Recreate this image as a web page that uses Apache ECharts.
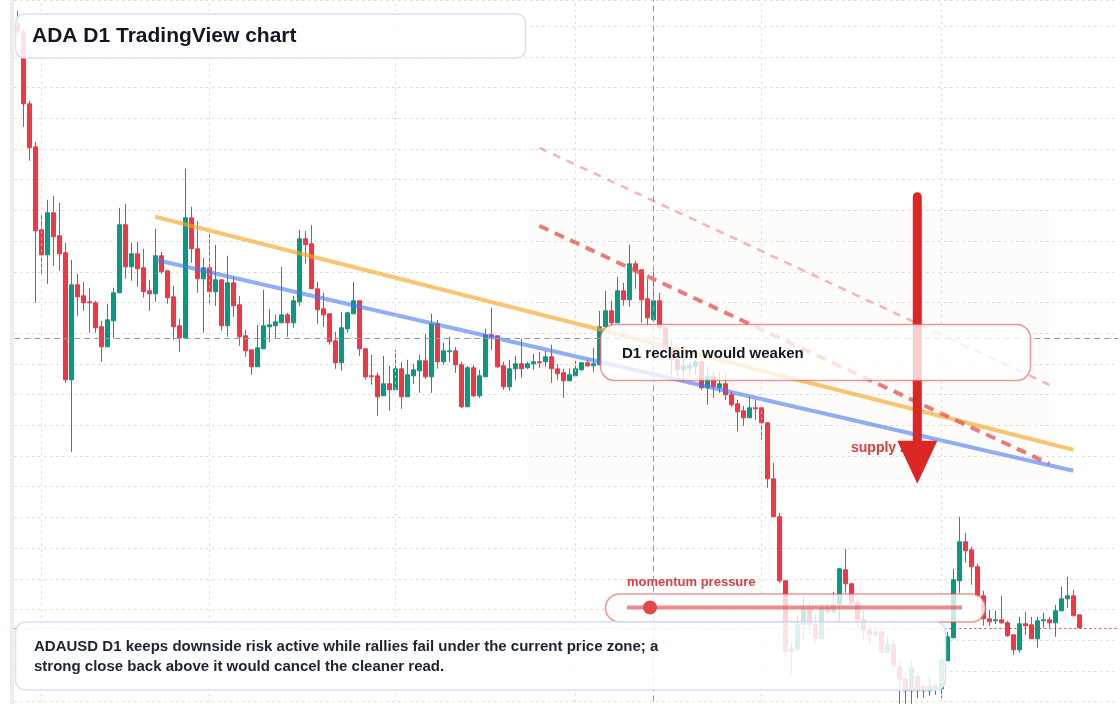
<!DOCTYPE html>
<html>
<head>
<meta charset="utf-8">
<title>ADA D1 TradingView chart</title>
<script src="https://cdn.jsdelivr.net/npm/echarts@6/dist/echarts.min.js"></script>
<style>
  html, body { margin: 0; padding: 0; background: #fff; }
  #chart { width: 1120px; height: 704px; }
</style>
</head>
<body>
<div id="chart"></div>
<script>
// ADAUSD daily candles, first bar 2025-01-28, a few empty future days on the right
const startDay = '2025-01-28'
const futureDays = 6

const open = [
  1.170,1.161,1.089,1.046,0.963,0.938,0.980,0.957,0.940,0.813,
  0.908,0.897,0.891,0.890,0.866,0.846,0.872,0.900,0.968,0.926,
  0.939,0.925,0.902,0.899,0.937,0.922,0.896,0.867,0.855,0.975,
  0.944,0.914,0.925,0.901,0.913,0.867,0.910,0.888,0.857,0.843,
  0.826,0.844,0.866,0.867,0.870,0.878,0.870,0.891,0.954,0.949,
  0.904,0.884,0.879,0.852,0.830,0.864,0.879,0.892,0.844,0.817,
  0.817,0.797,0.809,0.803,0.824,0.796,0.817,0.822,0.832,0.816,
  0.869,0.831,0.841,0.842,0.828,0.786,0.825,0.797,0.816,0.858,
  0.857,0.827,0.806,0.824,0.829,0.825,0.829,0.831,0.831,0.836,
  0.824,0.820,0.812,0.817,0.823,0.830,0.827,0.828,0.866,0.882,
  0.870,0.902,0.893,0.929,0.923,0.894,0.873,0.892,0.865,0.845,
  0.833,0.823,0.824,0.826,0.831,0.805,0.816,0.805,0.809,0.798,
  0.789,0.782,0.775,0.785,0.785,0.770,0.714,0.676,0.612,0.541,
  0.543,0.568,0.584,0.568,0.554,0.585,0.581,0.588,0.623,0.609,
  0.590,0.573,0.563,0.558,0.561,0.540,0.548,0.526,0.514,0.502,
  0.516,0.506,0.502,0.507,0.504,0.532,0.555,0.612,0.651,0.643,
  0.626,0.597,0.574,0.572,0.573,0.570,0.558,0.543,0.569,0.568,
  0.554,0.572,0.573,0.570,0.582,0.594,0.597,0.578
]
const close = [
  1.161,1.089,1.045,0.962,0.938,0.980,0.956,0.939,0.813,0.908,
  0.896,0.890,0.890,0.865,0.846,0.873,0.900,0.968,0.926,0.939,
  0.924,0.901,0.899,0.937,0.921,0.895,0.866,0.855,0.975,0.944,
  0.914,0.925,0.901,0.913,0.867,0.910,0.887,0.856,0.842,0.826,
  0.845,0.867,0.868,0.871,0.878,0.870,0.892,0.954,0.948,0.904,
  0.883,0.878,0.851,0.830,0.865,0.880,0.892,0.844,0.816,0.816,
  0.796,0.809,0.803,0.824,0.796,0.818,0.823,0.832,0.816,0.869,
  0.831,0.842,0.842,0.828,0.786,0.825,0.797,0.817,0.858,0.856,
  0.826,0.806,0.824,0.829,0.824,0.829,0.831,0.830,0.836,0.824,
  0.819,0.812,0.818,0.824,0.830,0.827,0.829,0.866,0.882,0.870,
  0.902,0.893,0.929,0.922,0.893,0.875,0.892,0.865,0.845,0.833,
  0.823,0.827,0.827,0.831,0.805,0.816,0.806,0.809,0.798,0.788,
  0.781,0.775,0.785,0.784,0.770,0.714,0.676,0.612,0.541,0.544,
  0.568,0.584,0.568,0.554,0.585,0.581,0.588,0.624,0.609,0.590,
  0.573,0.562,0.558,0.561,0.540,0.548,0.527,0.513,0.502,0.525,
  0.502,0.502,0.507,0.504,0.533,0.556,0.613,0.651,0.642,0.626,
  0.597,0.574,0.571,0.573,0.570,0.557,0.543,0.569,0.567,0.554,
  0.572,0.573,0.570,0.582,0.594,0.597,0.577,0.565
]
const low = [
  1.157,1.066,1.032,0.890,0.918,0.909,0.927,0.922,0.810,0.741,
  0.877,0.882,0.860,0.860,0.831,0.846,0.855,0.900,0.914,0.912,
  0.906,0.895,0.882,0.891,0.919,0.889,0.853,0.841,0.855,0.930,
  0.900,0.860,0.889,0.887,0.862,0.856,0.876,0.847,0.836,0.818,
  0.826,0.844,0.851,0.855,0.870,0.856,0.865,0.887,0.929,0.904,
  0.869,0.866,0.848,0.824,0.822,0.860,0.879,0.837,0.813,0.808,
  0.777,0.797,0.782,0.803,0.784,0.796,0.809,0.800,0.814,0.800,
  0.824,0.828,0.831,0.820,0.785,0.786,0.796,0.795,0.816,0.843,
  0.825,0.803,0.802,0.813,0.815,0.824,0.823,0.825,0.826,0.810,
  0.813,0.795,0.812,0.817,0.822,0.826,0.821,0.828,0.866,0.866,
  0.870,0.887,0.886,0.904,0.870,0.866,0.871,0.862,0.840,0.818,
  0.816,0.811,0.818,0.818,0.803,0.788,0.795,0.800,0.793,0.786,
  0.761,0.767,0.775,0.773,0.753,0.705,0.676,0.610,0.536,0.519,
  0.543,0.553,0.558,0.550,0.554,0.579,0.579,0.570,0.600,0.588,
  0.565,0.553,0.548,0.557,0.540,0.540,0.521,0.489,0.489,0.489,
  0.495,0.495,0.497,0.498,0.495,0.532,0.555,0.600,0.630,0.608,
  0.593,0.567,0.567,0.569,0.569,0.556,0.538,0.540,0.558,0.554,
  0.545,0.565,0.565,0.556,0.582,0.585,0.577,0.565
]
const high = [
  1.182,1.164,1.092,1.051,0.979,0.993,0.997,0.990,0.950,0.933,
  0.919,0.911,0.905,0.892,0.872,0.889,0.905,0.985,0.989,0.950,
  0.951,0.944,0.913,0.964,0.941,0.922,0.907,0.874,1.024,0.986,
  0.972,0.935,0.959,0.948,0.913,0.937,0.916,0.897,0.863,0.843,
  0.868,0.903,0.884,0.878,0.926,0.880,0.897,0.963,0.962,0.968,
  0.911,0.900,0.879,0.861,0.881,0.881,0.911,0.892,0.844,0.838,
  0.820,0.837,0.827,0.843,0.831,0.833,0.829,0.838,0.859,0.879,
  0.873,0.850,0.856,0.846,0.831,0.827,0.828,0.823,0.864,0.885,
  0.857,0.831,0.833,0.837,0.854,0.831,0.839,0.841,0.842,0.848,
  0.829,0.824,0.824,0.832,0.831,0.833,0.845,0.882,0.902,0.892,
  0.916,0.910,0.948,0.932,0.923,0.914,0.921,0.900,0.867,0.853,
  0.843,0.835,0.831,0.833,0.833,0.826,0.821,0.821,0.820,0.801,
  0.793,0.787,0.796,0.793,0.786,0.771,0.730,0.680,0.613,0.551,
  0.578,0.596,0.590,0.578,0.588,0.590,0.601,0.625,0.644,0.610,
  0.596,0.583,0.567,0.563,0.563,0.558,0.552,0.531,0.521,0.533,
  0.521,0.508,0.516,0.510,0.539,0.561,0.624,0.676,0.660,0.646,
  0.629,0.602,0.583,0.582,0.597,0.572,0.558,0.576,0.581,0.576,
  0.576,0.580,0.576,0.588,0.606,0.616,0.603,0.578
]

// drawn levels: [bar index, price]
const upperTrend = [[23, 0.976], [176, 0.743]]     // orange
const lowerTrend = [[23, 0.933], [176, 0.722]]     // blue
const supplyEdge = [[87, 0.967], [172, 0.729]]     // red dashed
const supplyTop = [[87, 1.045], [172, 0.808]]      // light red dashed
const supplyZone = [[85, 0.985], [172, 0.713]]
const arrowPath = [[150, 0.996], [150, 0.752], [150, 0.709]]  // top, head base, tip
const crossBar = 106
const crossPrice = 0.855

// price scale (no labels shown in the screenshot)
const priceMin = 0.4912
const priceMax = 1.1928
const priceStep = 0.0307

const FONT = '"Liberation Sans", Arial, sans-serif'
const UP = '#089981'
const DOWN = '#f23645'

const dates = []
const d0 = new Date(startDay + 'T00:00:00Z')
for (let i = 0; i < open.length + futureDays; i++) {
  dates.push(new Date(d0.getTime() + i * 86400000).toISOString().slice(0, 10))
}
const candles = open.map((o, i) => [o, close[i], low[i], high[i]])
const lastClose = close[close.length - 1]
const monthStarts = dates.filter(d => d.endsWith('-01'))

function trend(pts, style) {
  return {
    type: 'line', z: 3, silent: true, symbol: 'none', animation: false,
    data: pts.map(p => [dates[p[0]], p[1]]),
    lineStyle: style
  }
}

const chart = echarts.init(document.getElementById('chart'))
chart.setOption({
  animation: false,
  backgroundColor: '#ffffff',
  grid: { left: 14.3, right: 1.7, top: 0, bottom: 2.4 },
  xAxis: {
    type: 'category', data: dates, boundaryGap: true,
    axisLine: { show: false }, axisTick: { show: false }, axisLabel: { show: false },
    splitLine: { show: false }
  },
  yAxis: {
    type: 'value', min: priceMin, max: priceMax, interval: priceStep, scale: true,
    axisLine: { show: false }, axisTick: { show: false }, axisLabel: { show: false },
    splitLine: { show: true, lineStyle: { color: '#d3d5db', width: 1, type: [2, 4] } }
  },
  series: [
    {
      // background layer: zone, month grid, crosshair, last price
      type: 'line', z: 1, silent: true, data: [],
      markArea: {
        silent: true,
        itemStyle: { color: 'rgba(235,170,130,0.035)' },
        data: [[
          { xAxis: dates[supplyZone[0][0]], yAxis: supplyZone[0][1] },
          { xAxis: dates[supplyZone[1][0]], yAxis: supplyZone[1][1] }
        ]]
      },
      markLine: {
        silent: true, precision: 4, symbol: ['none', 'none'], label: { show: false }, animation: false,
        data: monthStarts.map(d => ({ xAxis: d, lineStyle: { color: '#d3d5db', width: 1, type: [2, 4] } }))
          .concat([
            { xAxis: dates[crossBar], lineStyle: { color: '#9598a1', width: 1, type: [6, 4] } },
            { yAxis: crossPrice, lineStyle: { color: '#9598a1', width: 1, type: [6, 4] } },
            { yAxis: lastClose, lineStyle: { color: DOWN, width: 1, type: [2, 3] } }
          ])
      }
    },
    {
      type: 'candlestick', z: 2, silent: true, clip: false, barWidth: '80%',
      data: candles,
      itemStyle: { color: UP, color0: DOWN, borderColor: UP, borderColor0: DOWN, borderWidth: 1 }
    },
    trend(upperTrend, { color: 'rgba(245,166,35,0.65)', width: 4 }),
    trend(lowerTrend, { color: 'rgba(70,120,240,0.6)', width: 4 }),
    trend(supplyTop, { color: 'rgba(240,120,120,0.55)', width: 2.5, type: [8, 7] }),
    trend(supplyEdge, { color: 'rgba(228,80,80,0.75)', width: 4, type: [10, 7] })
  ]
})

// annotations
const toPx = p => chart.convertToPixel({ gridIndex: 0 }, [dates[p[0]], p[1]])
const aTop = toPx(arrowPath[0])
const aBase = toPx(arrowPath[1])
const aTip = toPx(arrowPath[2])

function label(x, y, text, font, fill, z) {
  return {
    type: 'text', x: x, y: y, z: z, silent: true,
    style: { text: text, font: font, fill: fill, verticalAlign: 'middle', textVerticalAlign: 'middle' }
  }
}

chart.setOption({
  graphic: [
    { type: 'rect', z: 10, silent: true, shape: { x: 10, y: 0, width: 4, height: 704 }, style: { fill: '#ececec' } },
    label(851, 448, 'supply zone', 'bold 14px ' + FONT, '#e03e3e', 11),
    {
      type: 'line', z: 12, silent: true,
      shape: { x1: aTop[0], y1: aTop[1], x2: aBase[0], y2: aBase[1] + 2 },
      style: { stroke: '#dc2626', lineWidth: 9, lineCap: 'round' }
    },
    {
      type: 'polygon', z: 12, silent: true,
      shape: { points: [[aBase[0] - 20, aBase[1]], [aBase[0] + 20, aBase[1]], [aTip[0], aTip[1]]] },
      style: { fill: '#dc2626' }
    },
    {
      type: 'rect', z: 13, silent: true,
      shape: { x: 600.5, y: 324.5, width: 430, height: 56, r: 14 },
      style: { fill: 'rgba(255,255,255,0.78)', stroke: 'rgba(228,80,80,0.6)', lineWidth: 1.5 }
    },
    label(622, 354, 'D1 reclaim would weaken', 'bold 15px ' + FONT, '#131722', 14),
    label(627, 582, 'momentum pressure', 'bold 13px ' + FONT, '#e03e3e', 14),
    {
      type: 'rect', z: 13, silent: true,
      shape: { x: 605.5, y: 594, width: 380, height: 28, r: 14 },
      style: { fill: 'rgba(255,255,255,0.78)', stroke: 'rgba(228,80,80,0.6)', lineWidth: 1.5 }
    },
    {
      type: 'line', z: 14, silent: true,
      shape: { x1: 627, y1: 607.5, x2: 962, y2: 607.5 },
      style: { stroke: 'rgba(226,74,74,0.65)', lineWidth: 4 }
    },
    { type: 'circle', z: 15, silent: true, shape: { cx: 650, cy: 607.5, r: 7 }, style: { fill: '#e34a4a' } },
    {
      type: 'rect', z: 16, silent: true,
      shape: { x: 15.5, y: 14, width: 510, height: 44, r: 9 },
      style: { fill: 'rgba(255,255,255,0.86)', stroke: '#d4e1f8', lineWidth: 1.5 }
    },
    label(32, 36, 'ADA D1 TradingView chart', 'bold 21px ' + FONT, '#131722', 17),
    {
      type: 'rect', z: 16, silent: true,
      shape: { x: 15.5, y: 622, width: 930, height: 68, r: 10 },
      style: { fill: 'rgba(255,255,255,0.86)', stroke: '#d4e1f8', lineWidth: 1.5 }
    },
    label(34, 647, 'ADAUSD D1 keeps downside risk active while rallies fail under the current price zone; a', 'bold 15px ' + FONT, '#1c2333', 17),
    label(34, 667, 'strong close back above it would cancel the cleaner read.', 'bold 15px ' + FONT, '#1c2333', 17)
  ]
})
</script>
</body>
</html>
